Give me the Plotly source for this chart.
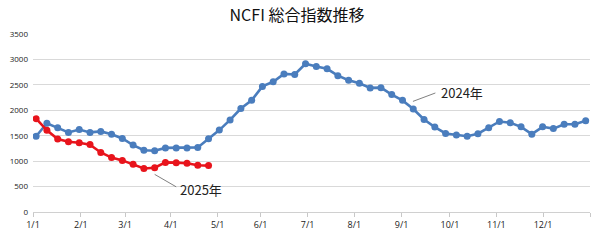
import plotly.graph_objects as go

# week index (0 = first week of January)
weeks_2024 = list(range(52))
ncfi_2024 = [1490, 1745, 1655, 1565, 1620, 1565, 1585, 1530, 1445, 1315,
             1215, 1205, 1260, 1260, 1260, 1270, 1440, 1610, 1810, 2035,
             2195, 2470, 2560, 2715, 2705, 2915, 2860, 2815, 2680, 2590,
             2530, 2440, 2445, 2310, 2195, 2025, 1820, 1670, 1545, 1515,
             1490, 1540, 1655, 1780, 1755, 1675, 1530, 1675, 1640, 1725,
             1725, 1795]
weeks_2025 = list(range(17))
ncfi_2025 = [1835, 1605, 1435, 1380, 1360, 1325, 1170, 1070, 1015, 940,
             855, 870, 975, 970, 958, 920, 912]

# month tick positions expressed in week index
tick_pos = [-0.29, 4.15, 8.25, 12.5, 16.85, 20.83, 25.2, 29.53, 33.92,
            38.4, 42.71, 47.04, 51.4]
tick_text = ["1/1", "2/1", "3/1", "4/1", "5/1", "6/1", "7/1", "8/1", "9/1",
             "10/1", "11/1", "12/1", ""]

BLUE = "#4a7dbd"
RED = "#e8141c"

fig = go.Figure()
fig.add_trace(go.Scatter(x=weeks_2024, y=ncfi_2024, mode="lines+markers",
                         line=dict(color=BLUE, width=2.6),
                         marker=dict(color=BLUE, size=7), name="2024年"))
fig.add_trace(go.Scatter(x=weeks_2025, y=ncfi_2025, mode="lines+markers",
                         line=dict(color=RED, width=2.6),
                         marker=dict(color=RED, size=7), name="2025年"))

fig.add_shape(type="line", x0=34.97, y0=2175, x1=37.05, y1=2340,
              line=dict(color="#606060", width=0.8))
fig.add_shape(type="line", x0=11.0, y0=740, x1=13.0, y1=495,
              line=dict(color="#606060", width=0.8))
fig.add_annotation(x=37.4, y=2342, text="2024年", showarrow=False,
                   xanchor="left", yanchor="middle",
                   font=dict(family="Noto Sans CJK JP", size=13, color="#222"))
fig.add_annotation(x=13.2, y=441, text="2025年", showarrow=False,
                   xanchor="left", yanchor="middle",
                   font=dict(family="Noto Sans CJK JP", size=13, color="#222"))

fig.update_layout(
    width=600, height=241,
    margin=dict(l=29, r=10, t=34, b=20),
    paper_bgcolor="white", plot_bgcolor="white",
    showlegend=False,
    title=dict(text="NCFI 総合指数推移", x=0.495, xanchor="center",
               y=0.938, yanchor="middle",
               font=dict(family="Noto Sans CJK JP", size=16, color="#111")),
    xaxis=dict(range=[-0.29, 51.4], tickmode="array", tickvals=tick_pos,
               ticktext=tick_text, showgrid=False, zeroline=False,
               showline=True, linecolor="#d0d0d0", linewidth=1,
               ticks="outside", ticklen=4, tickcolor="#c8c8c8",
               tickfont=dict(family="Open Sans", size=9, color="#222")),
    yaxis=dict(range=[0, 3500], dtick=500, showgrid=True,
               gridcolor="#d9d9d9", gridwidth=1, zeroline=False,
               showline=False, ticks="", ticklabelstandoff=4,
               tickfont=dict(family="Open Sans", size=8, color="#222")),
)

fig.write_html("out.html")
